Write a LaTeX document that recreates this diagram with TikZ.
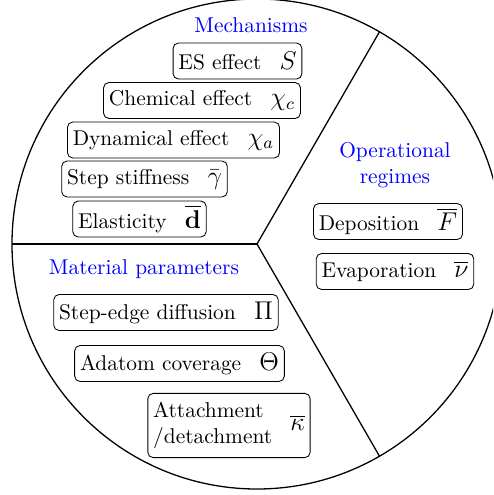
\documentclass[tikz,border=0pt]{standalone}
\usepackage{amsmath}
\newcommand{\symb}[1]{\hspace{8.5pt}{\large$#1$}}
\begin{document}
\begin{tikzpicture}[x=0.467pt,y=-0.467pt,
  box/.style={draw,rounded corners=2.5pt,inner xsep=2.5pt,inner ysep=0pt,minimum height=16.8pt,font=\fontsize{10}{12}\selectfont},
  head/.style={text=blue,align=center,font=\fontsize{10}{12}\selectfont}]
\useasboundingbox (0,0) rectangle (493,495);
\begin{scope}
\clip (0,0) rectangle (493,495);
\draw[line width=0.6pt] (257,244) circle [radius=245*0.467pt];
\end{scope}
\coordinate (c) at (257,244);
\coordinate (l) at (12,244);
\coordinate (ur) at (379.5,31.8);
\coordinate (lr) at (379.5,456.2);
\draw[line width=0.6pt] (c) -- (l);
\draw[line width=0.6pt] (c) -- (ur);
\draw[line width=0.6pt] (c) -- (lr);
\node[head] (mech) at (251,25) {Mechanisms};
\node[head] (oper) at (395,165) {Operational\\regimes};
\node[head] (mat) at (144,269) {Material parameters};
\node[box] (es) at (237.5,61) {ES effect\symb{S}};
\node[box] (chem) at (202,100.5) {Chemical effect\symb{\chi_c}};
\node[box] (dyn) at (173.5,140) {Dynamical effect\symb{\chi_a}};
\node[box] (stiff) at (144.5,179) {Step stiffness\symb{\bar{\gamma}}};
\node[box] (elas) at (139.5,219) {Elasticity\symb{\overline{\mathbf{d}}}};
\node[box] (dep) at (388,221.5) {Deposition\symb{\overline{F}}};
\node[box] (evap) at (395,271.5) {Evaporation\symb{\overline{\nu}}};
\node[box] (sed) at (166,312.5) {Step-edge diffusion\symb{\Pi}};
\node[box] (ada) at (179.5,363.5) {Adatom coverage\symb{\Theta}};
\node[box,inner ysep=3pt] (att) at (229,425.5) {\begin{tabular}{@{}l@{}}Attachment\\/detachment\end{tabular}\symb{\overline{\kappa}}};
\end{tikzpicture}
\end{document}
